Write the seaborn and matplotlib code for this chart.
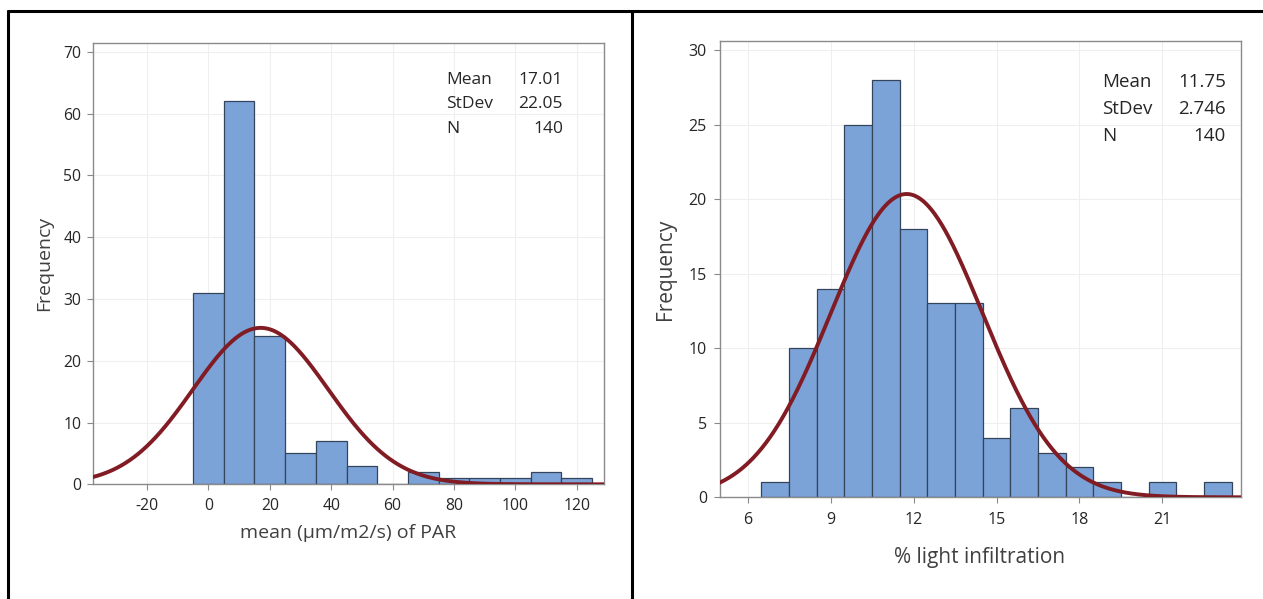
import numpy as np
import pandas as pd
import matplotlib
matplotlib.use("Agg")
import matplotlib.pyplot as plt
import seaborn as sns
from matplotlib.lines import Line2D

# ---- data ----
par_centers = [0, 10, 20, 30, 40, 50, 60, 70, 80, 90, 100, 110, 120]
par_counts = [31, 62, 24, 5, 7, 3, 0, 2, 1, 1, 1, 2, 1]
par_mean, par_sd, par_n = 17.01, 22.05, 140
par_binwidth = 10
par_xticks = [-20, 0, 20, 40, 60, 80, 100, 120]
par_yticks = [0, 10, 20, 30, 40, 50, 60, 70]

light_centers = [7, 8, 9, 10, 11, 12, 13, 14, 15, 16, 17, 18, 19, 20, 21, 22, 23]
light_counts = [1, 10, 14, 25, 28, 18, 13, 13, 4, 6, 3, 2, 1, 0, 1, 0, 1]
light_mean, light_sd, light_n = 11.75, 2.746, 140
light_binwidth = 1
light_xticks = [6, 9, 12, 15, 18, 21]
light_yticks = [0, 5, 10, 15, 20, 25, 30]

left_xlabel = "mean (µm/m2/s) of PAR"
right_xlabel = "% light infiltration"
ylabel = "Frequency"
left_stats = [("Mean", "17.01"), ("StDev", "22.05"), ("N", "140")]
right_stats = [("Mean", "11.75"), ("StDev", "2.746"), ("N", "140")]

sns.set_theme(style="white")
plt.rcParams['font.family'] = ['Open Sans', 'DejaVu Sans']
plt.rcParams['axes.unicode_minus'] = False

BAR = "#7ba3d8"
EDGE = "#34445a"
CURVE = "#821c24"
TXT = "#262626"
LBL = "#404040"
SPINE = "#8a8a8a"
GRID = "#efefef"

W, H = 1263, 599
fig = plt.figure(figsize=(W / 100, H / 100), dpi=100)
fig.patch.set_facecolor("white")


def px_axes(l, t, r, b):
    return fig.add_axes([l / W, 1 - b / H, (r - l) / W, (b - t) / H])


def fx(x):
    return x / W


def fy(y):
    return 1 - y / H


def draw(ax, centers, counts, bw, mean, sd, n, xlim, ylim, xticks, yticks,
         xlabel, stats, stat_pos, xlab_pos, ylab_pos, xpad, ypad, fs, tfs):
    df = pd.DataFrame({"x": centers, "w": counts})
    edges = [c - bw / 2 for c in centers] + [centers[-1] + bw / 2]
    sns.histplot(data=df, x="x", weights="w", bins=edges, ax=ax,
                 color=BAR, edgecolor=EDGE, linewidth=0.9, alpha=1.0, zorder=2)
    xs = np.linspace(xlim[0], xlim[1], 600)
    ys = n * bw / (sd * np.sqrt(2 * np.pi)) * np.exp(-0.5 * ((xs - mean) / sd) ** 2)
    sns.lineplot(x=xs, y=ys, ax=ax, color=CURVE, linewidth=2.8, zorder=3)
    ax.set_xlim(*xlim)
    ax.set_ylim(*ylim)
    ax.set_xticks(xticks)
    ax.set_yticks(yticks)
    ax.grid(True, color=GRID, linewidth=0.8, zorder=0)
    ax.set_axisbelow(True)
    for s in ax.spines.values():
        s.set_color(SPINE)
        s.set_linewidth(1.0)
    ax.tick_params(axis="both", which="both", direction="out", length=4,
                   width=0.8, color=SPINE, labelsize=tfs, labelcolor=TXT,
                   bottom=True, left=True)
    ax.tick_params(axis="x", pad=xpad)
    ax.tick_params(axis="y", pad=ypad)
    ax.set_xlabel(xlabel, fontsize=fs, color=LBL, va="center", ha="center")
    ax.xaxis.set_label_coords(fx(xlab_pos[0]), fy(xlab_pos[1]),
                              transform=fig.transFigure)
    ax.set_ylabel(ylabel, fontsize=fs, color=LBL, va="center", ha="center")
    ax.yaxis.set_label_coords(fx(ylab_pos[0]), fy(ylab_pos[1]),
                              transform=fig.transFigure)
    (lx, rx, y0, dy, sfs) = stat_pos
    for i, (k, v) in enumerate(stats):
        yy = y0 + i * dy
        fig.text(fx(lx), fy(yy), k, fontsize=sfs, color=TXT,
                 ha="left", va="center")
        fig.text(fx(rx), fy(yy), v, fontsize=sfs, color=TXT,
                 ha="right", va="center")


ax1 = px_axes(92.7, 42.7, 604.3, 484.3)
draw(ax1, par_centers, par_counts, par_binwidth, par_mean, par_sd, par_n,
     (-37.7, 129.0), (0, 71.5), par_xticks, par_yticks, left_xlabel,
     left_stats, (446, 563, 80, 24.5, 12.5), (348.5, 533), (44, 263),
     5.6, 4.3, 14, 11.3)

ax2 = px_axes(720, 41, 1240.7, 497.3)
draw(ax2, light_centers, light_counts, light_binwidth, light_mean, light_sd,
     light_n, (5.0, 23.83), (0, 30.6), light_xticks, light_yticks,
     right_xlabel, right_stats, (1101.7, 1225.7, 82, 27, 13.5),
     (980, 557), (666, 269), 6.4, 5.4, 15, 11.5)

# table-like frame lines around the panels
lw = 2.2
fig.add_artist(Line2D([fx(8), 1], [fy(10.7), fy(10.7)],
                      transform=fig.transFigure, color="black", linewidth=lw))
fig.add_artist(Line2D([fx(8), fx(8)], [0, fy(10.7)],
                      transform=fig.transFigure, color="black", linewidth=lw))
fig.add_artist(Line2D([fx(632), fx(632)], [0, fy(10.7)],
                      transform=fig.transFigure, color="black", linewidth=lw))

fig.savefig("out.png", dpi=100, facecolor="white")
